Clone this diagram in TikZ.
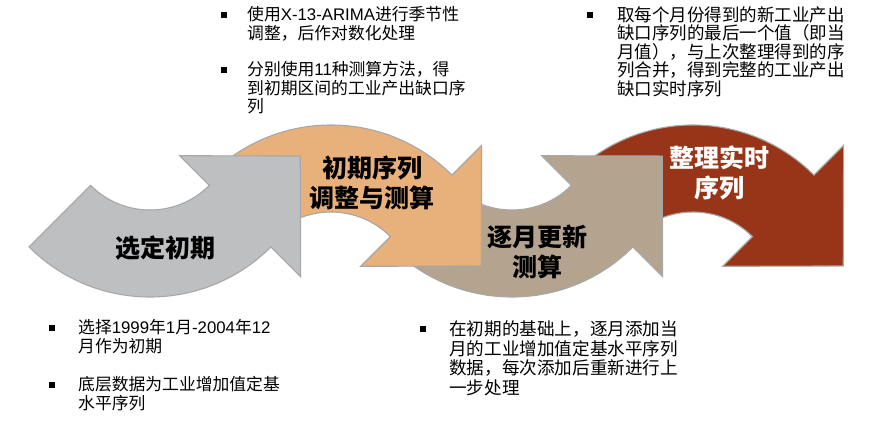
\documentclass[tikz,border=0pt]{standalone}
\usepackage{fontspec}
\setmainfont{Noto Sans CJK SC}
\newfontfamily\lat{Liberation Sans}
\usetikzlibrary{calc}
\definecolor{cgray}{HTML}{BEBFC1}
\definecolor{corange}{HTML}{E8B07A}
\definecolor{ctaupe}{HTML}{B4A38F}
\definecolor{crust}{HTML}{983519}
\definecolor{cedge}{HTML}{A8A8A8}
% smile-shaped curved arrow (arc below its centre), head pointing up-right
\newcommand\smilep[1]{($(#1)+(135:171)$) arc[start angle=135,end angle=45,radius=171]
  -- ($(#1)+(45:213)$) -- ($(#1)+(45:127.5)+(-45:85)$) -- ($(#1)+(45:42)$)
  -- ($(#1)+(45:84)$) arc[start angle=45,end angle=135,radius=84] -- cycle}
% frown-shaped curved arrow (arc above its centre), head pointing down-right
\newcommand\frownp[1]{($(#1)+(225:171)$) arc[start angle=225,end angle=315,radius=171]
  -- ($(#1)+(315:213)$) -- ($(#1)+(315:127.5)+(45:85)$) -- ($(#1)+(315:42)$)
  -- ($(#1)+(315:84)$) arc[start angle=315,end angle=225,radius=84] -- cycle}
\newcommand\shadowof[1]{\foreach \k in {2,4,...,12}{\fill[black,opacity=0.035,shift={(0,\k)}] #1;}}
\tikzset{
  arrowshape/.style={draw=cedge, line width=1.1pt, line join=miter},
  btxt/.style={anchor=north west, inner sep=0pt, align=left, font=\fontsize{16.8}{18.4}\selectfont},
  btxtw/.style={btxt, font=\fontsize{17.5}{18.4}\selectfont},
  btxtb/.style={btxt, font=\fontsize{17.6}{19.6}\selectfont},
  bsq/.style={fill=black, minimum size=6.5pt, inner sep=0pt},
  lab/.style={font=\fontsize{25}{30}\selectfont\bfseries, align=center, inner sep=0pt}
}
\begin{document}
\begin{tikzpicture}[x=1pt,y=-1pt]
\path[use as bounding box, fill=white] (0,0) rectangle (890,432);
\coordinate (c1) at (150,126);
\coordinate (c2) at (331,296);
\coordinate (c3) at (512,126);
\coordinate (c4) at (693,296);
% arrows, from last to first so each head lies over the next tail
\shadowof{\frownp{c4}}
\path[arrowshape, fill=crust] \frownp{c4};
\shadowof{\smilep{c3}}
\path[arrowshape, fill=ctaupe] \smilep{c3};
\shadowof{\frownp{c2}}
\path[arrowshape, fill=corange] \frownp{c2};
\shadowof{\smilep{c1}}
\path[arrowshape, fill=cgray] \smilep{c1};
% labels
\node[lab] (l1) at (165,248) {选定初期};
\node[lab] (l2) at (372,183) {初期序列\\调整与测算};
\node[lab] (l3) at (537,252) {逐月更新\\测算};
\node[lab, text=white] (l4) at (719,173) {整理实时\\序列};
% bullet texts
\node[bsq] (b1) at (224,15) {};
\node[btxt] (t1) at (247,6.5) {使用{\lat X-13-ARIMA}进行季节性\\调整，后作对数化处理};
\node[bsq] (b2) at (224,70) {};
\node[btxt] (t2) at (247,61.5) {分别使用{\lat 11}种测算方法，得\\到初期区间的工业产出缺口序\\列};
\node[bsq] (b3) at (590,15) {};
\node[btxtw] (t3) at (617,6.5) {取每个月份得到的新工业产出\\缺口序列的最后一个值（即当\\月值），与上次整理得到的序\\列合并，得到完整的工业产出\\缺口实时序列};
\node[bsq] (b4) at (52,328) {};
\node[btxt] (t4) at (78,319.5) {选择{\lat 1999}年{\lat 1}月{\lat -2004}年{\lat 12}\\月作为初期};
\node[bsq] (b5) at (52,385) {};
\node[btxt] (t5) at (78,376.5) {底层数据为工业增加值定基\\水平序列};
\node[bsq] (b6) at (423,329) {};
\node[btxtb] (t6) at (449,320.5) {在初期的基础上，逐月添加当\\月的工业增加值定基水平序列\\数据，每次添加后重新进行上\\一步处理};
\end{tikzpicture}
\end{document}
